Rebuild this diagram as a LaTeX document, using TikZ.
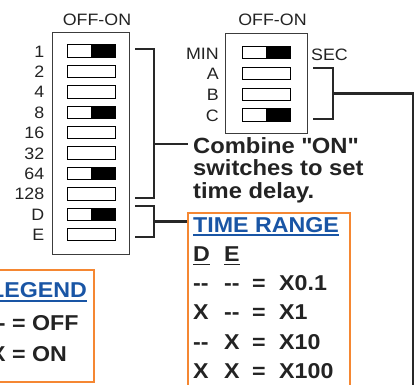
\documentclass[tikz,border=0pt]{standalone}
\usepackage{fontspec}
\setmainfont{Liberation Sans}[FakeStretch=1.08]

\definecolor{ink}{RGB}{35,35,35}
\definecolor{dipline}{RGB}{60,60,60}
\definecolor{brk}{RGB}{40,40,40}
\definecolor{boxorange}{RGB}{245,135,50}
\definecolor{titleblue}{RGB}{25,85,165}

\begin{document}
\begin{tikzpicture}[x=1pt,y=-1pt,
    lbl/.style={inner sep=0pt, text=ink, font=\fontsize{16.5}{18}\selectfont},
    bold/.style={inner sep=0pt, text=ink, font=\fontsize{21.5}{22.5}\selectfont\bfseries},
    toggle/.style={draw=black, line width=0.9pt, fill=white, minimum width=48pt, minimum height=12.3pt, inner sep=0pt},
    housing/.style={draw=dipline, line width=1pt, inner sep=0pt},
    bracket/.style={draw=brk, line width=2.2pt},
    panel/.style={draw=boxorange, line width=2pt, inner sep=0pt}]
        \useasboundingbox (0,0) rectangle (415,384);
        \clip (0,0) rectangle (415,384);

        % left switch block
        \node[housing, minimum width=77pt, minimum height=222pt] (lhousing) at (90.5,143) {};
        \node[lbl, anchor=base] (lhead) at (97,25.5) {OFF-ON};
        \foreach \name/\on [count=\i] in {1/1,2/0,4/0,8/1,16/0,32/0,64/1,128/0,D/1,E/0} {
            \node[toggle] (sw\i) at (91,{51+20.4*(\i-1)}) {};
            \ifnum\on=1 \fill (sw\i.north) rectangle (sw\i.south east); \fi
            \node[lbl, anchor=base east] (swl\i) at (44.5,{57+20.4*(\i-1)}) {\name};
        }

        % right switch block
        \node[housing, minimum width=82pt, minimum height=100pt] (rhousing) at (266,83) {};
        \node[lbl, anchor=base] (rhead) at (272.5,25) {OFF-ON};
        \foreach \name/\on [count=\i] in {MIN/1,A/0,B/0,C/1} {
            \node[toggle] (rs\i) at (266,{52.5+20.8*(\i-1)}) {};
            \ifnum\on=1 \fill (rs\i.north) rectangle (rs\i.south east); \fi
            \node[lbl, anchor=base east] (rsl\i) at (219,{59+20.8*(\i-1)}) {\name};
        }
        \node[lbl, anchor=base west] (sec) at (311,60) {SEC};

        % note and boxes
        \node[bold, font=\fontsize{22}{22.5}\selectfont\bfseries, inner xsep=5pt, anchor=base west, align=left] (combine) at (188,198.3)
            {Combine \textquotedbl ON\textquotedbl\\switches to set\\time delay.};
        \node[panel, minimum width=162.6pt, minimum height=200pt, anchor=north west] (range) at (186.7,212) {};
        \node[panel, minimum width=125pt, minimum height=112.6pt, anchor=north east] (legend) at (95,268.7) {};

        % brackets
        \coordinate (b1a) at (135,49);
        \coordinate (b1b) at (154,49);
        \coordinate (b1c) at (154,198);
        \coordinate (b1d) at (135,198);
        \coordinate (b1m) at (154,144);
        \draw[bracket] (b1a) -- (b1b) -- (b1c) -- (b1d);
        \draw[bracket] (b1m) -- (combine.west |- b1m);

        \coordinate (b2a) at (135,206);
        \coordinate (b2b) at (154,206);
        \coordinate (b2c) at (154,237);
        \coordinate (b2d) at (135,237);
        \coordinate (b2m) at (154,221.5);
        \draw[bracket] (b2a) -- (b2b) -- (b2c) -- (b2d);
        \draw[bracket] (b2m) -- (range.west |- b2m);

        \coordinate (b3a) at (313,68);
        \coordinate (b3b) at (333,68);
        \coordinate (b3c) at (333,119);
        \coordinate (b3d) at (313,119);
        \coordinate (b3m) at (333,93.5);
        \coordinate (b3e) at (413,93.5);
        \coordinate (b3f) at (413,400);
        \draw[bracket] (b3a) -- (b3b) -- (b3c) -- (b3d);
        \draw[bracket] (b3m) -- (b3e) -- (b3f);

        % time range table
        \node[bold, anchor=base west, text=titleblue] (rtitle) at (193,232) {TIME RANGE};
        \draw[titleblue, line width=1.8pt] ([yshift=-2.8pt]rtitle.base west) -- ([yshift=-2.8pt]rtitle.base east);
        \node[bold, anchor=base west] (hd) at (193,261.5) {D};
        \node[bold, anchor=base west] (he) at (224,261.5) {E};
        \draw[ink, line width=1.8pt] ([yshift=-3pt]hd.base west) -- ([yshift=-3pt]hd.base east);
        \draw[ink, line width=1.8pt] ([yshift=-3pt]he.base west) -- ([yshift=-3pt]he.base east);
        \foreach \d/\e/\v [count=\i] in {{-{}-}/{-{}-}/X0.1, X/{-{}-}/X1, {-{}-}/X/X10, X/X/X100} {
            \node[bold, anchor=base west] (rd\i) at (193,{261.5+29.2*\i}) {\d};
            \node[bold, anchor=base west] (re\i) at (224,{261.5+29.2*\i}) {\e};
            \node[bold, anchor=base west] (rq\i) at (252,{261.5+29.2*\i}) {=};
            \node[bold, anchor=base west] (rv\i) at (279,{261.5+29.2*\i}) {\v};
        }

        % legend
        \node[bold, anchor=base west, text=titleblue] (ltitle) at (-10,297.5) {LEGEND};
        \draw[titleblue, line width=1.8pt] ([yshift=-3.2pt]ltitle.base west) -- ([yshift=-3.2pt]ltitle.base east);
        \node[bold, anchor=base west] (loff) at (-10,330) {-{}- = OFF};
        \node[bold, anchor=base west] (lon) at (-10,361.7) {X = ON};
    \end{tikzpicture}
\end{document}
